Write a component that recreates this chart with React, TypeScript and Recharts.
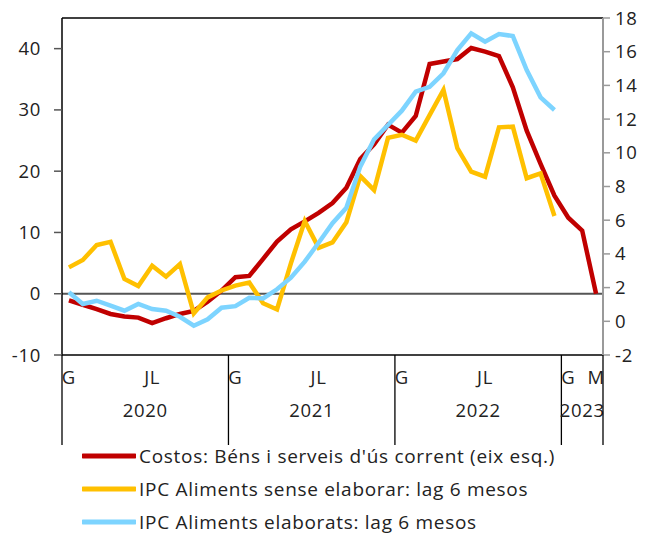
import React from "react";
import { LineChart, Line, XAxis, YAxis, ReferenceLine, Legend } from "recharts";

// months Jan 2020 .. Mar 2023
const months = [
  "2020-01", "2020-02", "2020-03", "2020-04", "2020-05", "2020-06",
  "2020-07", "2020-08", "2020-09", "2020-10", "2020-11", "2020-12",
  "2021-01", "2021-02", "2021-03", "2021-04", "2021-05", "2021-06",
  "2021-07", "2021-08", "2021-09", "2021-10", "2021-11", "2021-12",
  "2022-01", "2022-02", "2022-03", "2022-04", "2022-05", "2022-06",
  "2022-07", "2022-08", "2022-09", "2022-10", "2022-11", "2022-12",
  "2023-01", "2023-02", "2023-03",
];
const monthLabels = [
  "G", "", "", "", "", "", "JL", "", "", "", "", "",
  "G", "", "", "", "", "", "JL", "", "", "", "", "",
  "G", "", "", "", "", "", "JL", "", "", "", "", "",
  "G", "", "M",
];
const years = ["2020", "2021", "2022", "2023"];

// left axis
const costos = [
  -1.1, -1.8, -2.5, -3.3, -3.7, -3.9, -4.8, -4.0, -3.3, -2.8, -1.3, 0.5,
  2.7, 2.9, 5.7, 8.5, 10.5, 11.8, 13.2, 14.8, 17.3, 22.0, 24.4, 27.6,
  26.3, 29.0, 37.5, 37.9, 38.3, 40.1, 39.5, 38.8, 33.7, 26.6, 21.2, 16.0,
  12.4, 10.3, 0.0,
];
// right axis
const senseElaborar = [
  3.2, 3.64, 4.53, 4.72, 2.51, 2.09, 3.3, 2.65, 3.4, 0.47, 1.42, 1.83,
  2.12, 2.3, 1.07, 0.7, 3.44, 5.95, 4.36, 4.68, 5.88, 8.62, 7.79, 10.89,
  11.07, 10.72, 12.24, 13.73, 10.27, 8.88, 8.58, 11.51, 11.55, 8.49, 8.78, 6.25,
];
const elaborats = [
  1.72, 1.03, 1.22, 0.93, 0.63, 1.03, 0.73, 0.63, 0.27, -0.26, 0.12, 0.81,
  0.9, 1.4, 1.36, 1.9, 2.59, 3.54, 4.66, 5.82, 6.74, 9.18, 10.8, 11.65,
  12.5, 13.63, 13.92, 14.72, 16.1, 17.09, 16.59, 17.05, 16.93, 14.91, 13.29, 12.54,
];

const leftTicks = [-10, 0, 10, 20, 30, 40];
const rightTicks = [-2, 0, 2, 4, 6, 8, 10, 12, 14, 16, 18];

const series = [
  { key: "costos", name: "Costos: Béns i serveis d'ús corrent (eix esq.)", color: "#C00000", axis: "left" },
  { key: "sense", name: "IPC Aliments sense elaborar: lag 6 mesos", color: "#FFC000", axis: "right" },
  { key: "elab", name: "IPC Aliments elaborats: lag 6 mesos", color: "#7DD4FF", axis: "right" },
];

const data = months.map((m, i) => ({
  month: m,
  costos: costos[i],
  sense: senseElaborar[i] ?? null,
  elab: elaborats[i] ?? null,
}));

const W = 639;
const H = 528;
const LEFT_W = 54;
const RIGHT_W = 44;
const FONT = "'Open Sans', sans-serif";
const FS = 18.5;
const LS = 0.7;
const band = (W - LEFT_W - RIGHT_W) / months.length;

function MonthTick(props: any) {
  const { x, y, payload } = props;
  const i = payload.index;
  const label = monthLabels[i];
  const edge = x - band / 2;
  const txt = { fontSize: FS, fill: "#222", fontFamily: FONT, letterSpacing: LS };
  return (
    <g>
      {label && (
        <text x={x} y={y + 29} textAnchor="middle" {...txt}>
          {label}
        </text>
      )}
      {i % 12 === 0 && (
        <>
          <line x1={edge} x2={edge} y1={y} y2={y + 90} stroke="#000" strokeWidth={1.3} />
          <text x={edge + (Math.min(12, months.length - i) * band) / 2} y={y + 62} textAnchor="middle" {...txt}>
            {years[i / 12]}
          </text>
        </>
      )}
      {i === months.length - 1 && (
        <line x1={x + band / 2} x2={x + band / 2} y1={y} y2={y + 90} stroke="#000" strokeWidth={1.3} />
      )}
    </g>
  );
}

function LegendBox() {
  return (
    <div style={{ fontFamily: FONT, fontSize: 19, letterSpacing: LS, color: "#222" }}>
      {series.map((s) => (
        <div key={s.key} style={{ display: "flex", alignItems: "center", height: 33 }}>
          <svg width={54} height={6} style={{ marginRight: 3 }}>
            <line x1={1} x2={53} y1={3} y2={3} stroke={s.color} strokeWidth={5} strokeLinecap="round" />
          </svg>
          <span>{s.name}</span>
        </div>
      ))}
    </div>
  );
}

export default function App() {
  return (
    <LineChart width={W} height={H} data={data} margin={{ top: 10, right: 0, bottom: 0, left: 0 }}>
      <XAxis
        dataKey="month"
        scale="band"
        interval={0}
        height={181}
        tickLine={false}
        tickSize={0}
        tickMargin={0}
        axisLine={{ stroke: "#000", strokeWidth: 1.5 }}
        tick={<MonthTick />}
      />
      <YAxis
        yAxisId="left"
        width={LEFT_W}
        domain={[-10, 45]}
        ticks={leftTicks}
        interval={0}
        axisLine={{ stroke: "#000", strokeWidth: 1.5 }}
        tickLine={{ stroke: "#555", strokeWidth: 1.5 }}
        tickSize={8}
        tickMargin={13}
        tick={{ fill: "#222", fontSize: FS, fontFamily: FONT, letterSpacing: LS }}
      />
      <YAxis
        yAxisId="right"
        orientation="right"
        width={RIGHT_W}
        domain={[-2, 18]}
        ticks={rightTicks}
        interval={0}
        axisLine={{ stroke: "#9A9A9A", strokeWidth: 2 }}
        tickLine={{ stroke: "#9A9A9A", strokeWidth: 1.5 }}
        tickSize={7}
        tickMargin={5}
        tick={{ fill: "#222", fontSize: FS, fontFamily: FONT, letterSpacing: LS, textAnchor: "start" }}
      />
      <ReferenceLine yAxisId="left" y={45} stroke="#000" strokeWidth={1.5} />
      <ReferenceLine yAxisId="left" y={0} stroke="#555" strokeWidth={2} />
      {series.map((s) => (
        <Line
          key={s.key}
          yAxisId={s.axis}
          dataKey={s.key}
          name={s.name}
          type="linear"
          stroke={s.color}
          strokeWidth={4.5}
          dot={false}
          activeDot={false}
          connectNulls={false}
          isAnimationActive={false}
        />
      ))}
      <Legend
        layout="horizontal"
        verticalAlign="middle"
        align="center"
        content={<LegendBox />}
        wrapperStyle={{ top: 431, left: 74, width: "auto" }}
      />
    </LineChart>
  );
}
